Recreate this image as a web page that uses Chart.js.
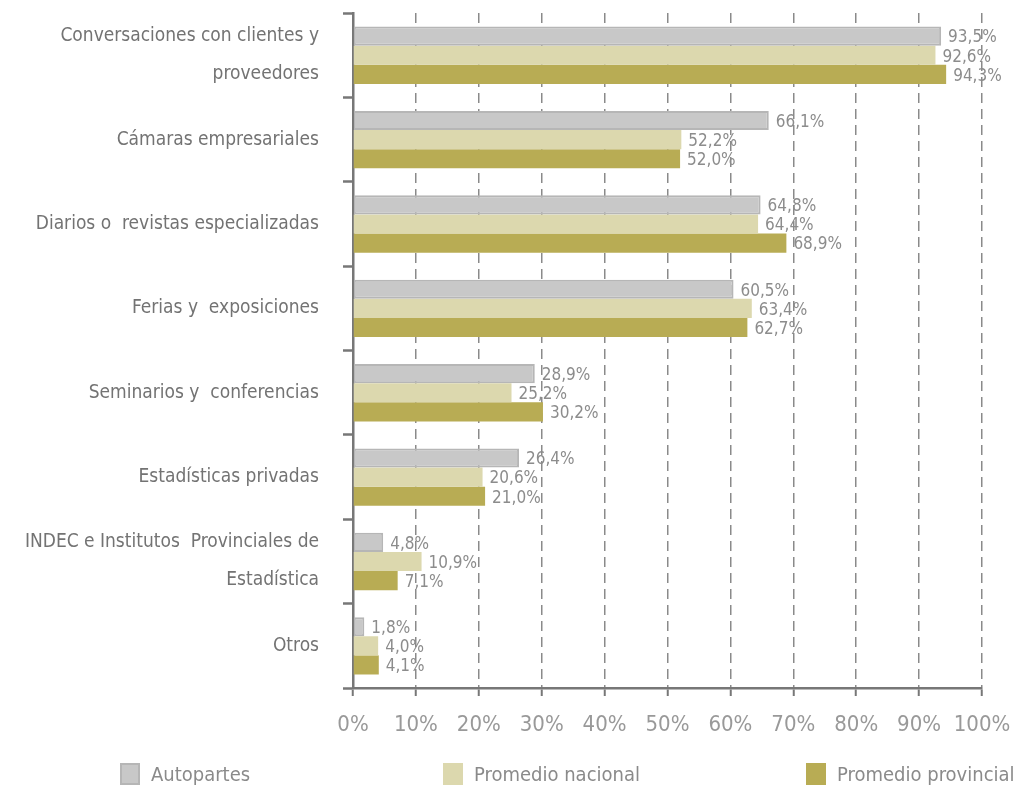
<!DOCTYPE html>
<html><head><meta charset="utf-8">
<script src="https://cdn.jsdelivr.net/npm/chart.js@4/dist/chart.umd.min.js"></script>
<style>
html,body{margin:0;padding:0;background:#fff;}
#wrap{position:relative;width:1028px;height:789px;}
.leg{position:absolute;top:762px;height:24px;font-family:"Liberation Sans Narrow","DejaVu Sans Condensed",sans-serif;font-size:20px;color:#8a8a8a;white-space:nowrap;}
.leg span.box{position:absolute;left:0;top:1px;width:20px;height:22px;box-sizing:border-box;}
.leg span.t{position:absolute;left:31px;top:0;line-height:24px;}
</style></head>
<body>
<div id="wrap"><canvas id="c" width="1028" height="789"></canvas>
<div id="legend"></div></div>
<script>
const categories = [
  ["Conversaciones con clientes y", "proveedores"],
  "Cámaras empresariales",
  "Diarios o  revistas especializadas",
  "Ferias y  exposiciones",
  "Seminarios y  conferencias",
  "Estadísticas privadas",
  ["INDEC e Institutos  Provinciales de", "Estadística"],
  "Otros"
];
const seriesNames = ["Autopartes", "Promedio nacional", "Promedio provincial"];
const autopartes = [93.5, 66.1, 64.8, 60.5, 28.9, 26.4, 4.8, 1.8];
const promedioNacional = [92.6, 52.2, 64.4, 63.4, 25.2, 20.6, 10.9, 4.0];
const promedioProvincial = [94.3, 52.0, 68.9, 62.7, 30.2, 21.0, 7.1, 4.1];
const xTicks = [0, 10, 20, 30, 40, 50, 60, 70, 80, 90, 100];

const FONT = '"Liberation Sans Narrow","DejaVu Sans Condensed",sans-serif';
const fills = ["#c8c8c8", "#dcd8ae", "#b8ac54"];
const borders = ["#b6b6b6", "#dcd8ae", "#b8ac54"];
const borderW = [2, 0, 0];

const fmt = v => v.toFixed(1).replace('.', ',') + '%';

const labelPlugin = {
  id: 'valLabels',
  afterDatasetsDraw(chart) {
    const ctx = chart.ctx;
    ctx.save();
    ctx.font = '17px ' + FONT;
    ctx.fillStyle = '#8c8c8c';
    ctx.textAlign = 'left';
    ctx.textBaseline = 'middle';
    chart.data.datasets.forEach((ds, di) => {
      chart.getDatasetMeta(di).data.forEach((el, i) => {
        ctx.fillText(fmt(ds.data[i]), el.x + 7, el.y + 2);
      });
    });
    ctx.restore();
  }
};

const dataArr = [autopartes, promedioNacional, promedioProvincial];
new Chart(document.getElementById('c'), {
  type: 'bar',
  data: {
    labels: categories,
    datasets: dataArr.map((d, i) => ({
      label: seriesNames[i],
      data: d,
      backgroundColor: fills[i],
      borderColor: borders[i],
      borderWidth: borderW[i],
      borderSkipped: false,
      barPercentage: 1,
      categoryPercentage: 0.68
    }))
  },
  options: {
    indexAxis: 'y',
    responsive: false,
    animation: false,
    layout: { padding: { top: 13, right: 46, left: 0, bottom: 0 } },
    plugins: { legend: { display: false }, tooltip: { enabled: false } },
    scales: {
      x: {
        min: 0, max: 100,
        afterBuildTicks(s) { s.ticks = xTicks.map(v => ({ value: v })); },
        afterFit(s) { s.height = 101; s.paddingLeft = 0; s.paddingRight = 0; },
        grid: { color: '#8a8a8a', lineWidth: 1.5, tickColor: '#777', tickWidth: 2, tickLength: 8, tickBorderDash: [] },
        border: { color: '#777', width: 2.5, dash: [10, 6] },
        ticks: { padding: 16, color: '#999', font: { family: FONT, size: 22 }, callback: v => v + '%' }
      },
      y: {
        afterFit(s) { s.width = 353; s.paddingTop = 0; s.paddingBottom = 0; },
        grid: { drawOnChartArea: false, color: '#777', tickColor: '#777', tickWidth: 2.5, tickLength: 10, offset: true },
        border: { color: '#777', width: 2.5 },
        ticks: { padding: 24, color: '#737373', font: { family: FONT, size: 19, lineHeight: 2 } }
      }
    }
  },
  plugins: [labelPlugin]
});

const legX = [120, 443, 806];
const legend = document.getElementById('legend');
seriesNames.forEach((n, i) => {
  const d = document.createElement('div');
  d.className = 'leg';
  d.style.left = legX[i] + 'px';
  d.innerHTML = '<span class="box" style="background:' + fills[i] + ';border:' + (borderW[i] ? '2px solid ' + borders[i] : 'none') + '"></span><span class="t">' + n + '</span>';
  legend.appendChild(d);
});
</script>
</body></html>
